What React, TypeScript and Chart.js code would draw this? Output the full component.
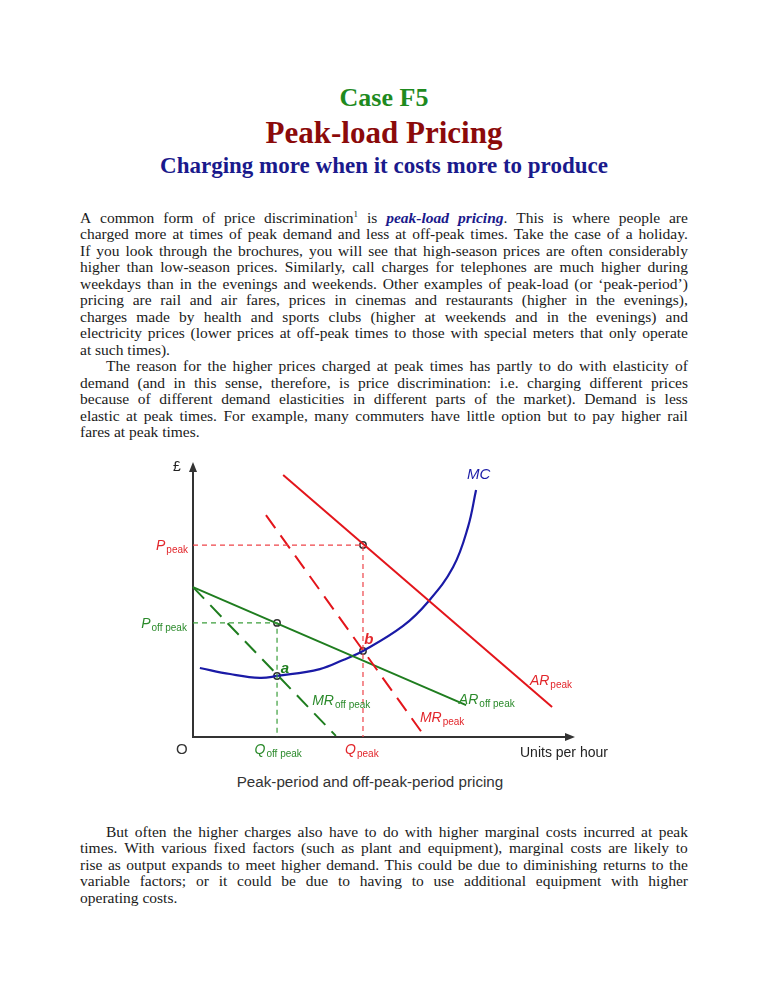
import React, { useEffect, useRef } from "react";
import { Chart, registerables } from "chart.js";
Chart.register(...registerables);

// ---------- chart data (quantity 0..100, price 0..100) ----------
const AR_PEAK = [{ x: 23.6, y: 95.3 }, { x: 94.0, y: 10.9 }];
const MR_PEAK = [{ x: 19.1, y: 80.7 }, { x: 60.2, y: 1.1 }];
const AR_OFF = [{ x: 0, y: 54.5 }, { x: 71.5, y: 11.6 }];
const MR_OFF = [{ x: 0, y: 54.5 }, { x: 37.4, y: 0.4 }];
const MC_X = [1.8, 9.7, 17.5, 22.0, 33.2, 39.3, 44.5, 55.0, 61.5, 68.1, 72.0, 74.1];
const MC_Y = [25.1, 22.9, 21.5, 22.2, 24.7, 28.0, 31.3, 40.4, 49.1, 61.8, 76.4, 89.8];
const Q_OFF = 22.0;
const Q_PEAK = 44.5;
const P_PEAK = 69.8;
const P_OFF = 41.5;
const A_PRICE = 22.2;
const B_PRICE = 31.3;

const RED = "#e3151b";
const RED_GUIDE = "#ee4449";
const RED_TXT = "#e2262b";
const GREEN = "#1f7d1f";
const GREEN_GUIDE = "#3c9e3c";
const GREEN_TXT = "#2b8a2b";
const BLUE = "#1a1aa6";

type Lbl = {
  main: string;
  sub?: string;
  x: number;
  y: number;
  color: string;
  font: string;
  align: "left" | "right" | "center";
};

const SANS = "'Liberation Sans', Arial, sans-serif";
const IT = "italic 14px " + SANS;

const LABELS: Lbl[] = [
  { main: "£", x: -4.2, y: 98.5, color: "#222", font: "14px " + SANS, align: "center" },
  { main: "MC", x: 74.8, y: 95.8, color: BLUE, font: "italic 15px " + SANS, align: "center" },
  { main: "P", sub: "peak", x: -1.3, y: P_PEAK, color: RED_TXT, font: IT, align: "right" },
  { main: "P", sub: "off peak", x: -1.6, y: P_OFF, color: GREEN_TXT, font: IT, align: "right" },
  { main: "O", x: -2.9, y: -4.4, color: "#333", font: "15px " + SANS, align: "center" },
  { main: "Q", sub: "off peak", x: Q_OFF + 0.3, y: -4.4, color: GREEN_TXT, font: IT, align: "center" },
  { main: "Q", sub: "peak", x: Q_PEAK - 0.3, y: -4.4, color: RED_TXT, font: IT, align: "center" },
  { main: "a", x: 23.0, y: 25.1, color: GREEN, font: "bold italic 15px " + SANS, align: "left" },
  { main: "b", x: 44.8, y: 35.6, color: RED_TXT, font: "bold italic 15px " + SANS, align: "left" },
  { main: "MR", sub: "off peak", x: 31.2, y: 13.5, color: GREEN_TXT, font: IT, align: "left" },
  { main: "AR", sub: "off peak", x: 69.6, y: 13.8, color: GREEN_TXT, font: IT, align: "left" },
  { main: "MR", sub: "peak", x: 59.4, y: 7.3, color: RED_TXT, font: IT, align: "left" },
  { main: "AR", sub: "peak", x: 88.2, y: 20.7, color: RED_TXT, font: IT, align: "left" },
  { main: "Units per hour", x: 85.6, y: -5.5, color: "#222", font: "14px " + SANS, align: "left" },
];

const SUB_FONT = "10px " + SANS;

const annotPlugin = {
  id: "annot",
  beforeDatasetsDraw(chart: any) {
    const { ctx, scales } = chart;
    const xs = scales.x;
    const ys = scales.y;
    const ox = xs.getPixelForValue(0);
    const oy = ys.getPixelForValue(0);
    const tx = xs.getPixelForValue(100);
    const ty = ys.getPixelForValue(100);
    ctx.save();
    ctx.strokeStyle = "#333";
    ctx.fillStyle = "#333";
    ctx.lineWidth = 2;
    ctx.beginPath();
    ctx.moveTo(ox, ty + 6);
    ctx.lineTo(ox, oy);
    ctx.lineTo(tx - 6, oy);
    ctx.stroke();
    ctx.beginPath();
    ctx.moveTo(ox, ty);
    ctx.lineTo(ox - 4, ty + 10);
    ctx.lineTo(ox + 4, ty + 10);
    ctx.closePath();
    ctx.fill();
    ctx.beginPath();
    ctx.moveTo(tx, oy);
    ctx.lineTo(tx - 10, oy - 4);
    ctx.lineTo(tx - 10, oy + 4);
    ctx.closePath();
    ctx.fill();
    ctx.restore();
  },
  afterDatasetsDraw(chart: any) {
    const { ctx, scales } = chart;
    ctx.save();
    ctx.textBaseline = "alphabetic";
    for (const l of LABELS) {
      const px = scales.x.getPixelForValue(l.x);
      const py = scales.y.getPixelForValue(l.y);
      ctx.font = l.font;
      const wMain = ctx.measureText(l.main).width;
      ctx.font = SUB_FONT;
      const wSub = l.sub ? ctx.measureText(l.sub).width + 1 : 0;
      const total = wMain + wSub;
      let sx = px;
      if (l.align === "center") sx = px - total / 2;
      if (l.align === "right") sx = px - total;
      ctx.fillStyle = l.color;
      ctx.font = l.font;
      ctx.textAlign = "left";
      ctx.fillText(l.main, sx, py + 5);
      if (l.sub) {
        ctx.font = SUB_FONT;
        ctx.fillText(l.sub, sx + wMain + 1, py + 8);
      }
    }
    ctx.restore();
  },
};

function PeakChart() {
  const ref = useRef<HTMLCanvasElement | null>(null);
  useEffect(() => {
    if (!ref.current) return;
    const lineDs = (data: any[], color: string, width: number, dash: number[]) => ({
      data,
      borderColor: color,
      backgroundColor: color,
      borderWidth: width,
      borderDash: dash,
      showLine: true,
      pointRadius: 0,
      fill: false,
      clip: false as any,
    });
    const chart = new Chart(ref.current, {
      type: "scatter",
      data: {
        datasets: [
          lineDs([{ x: 0, y: P_PEAK }, { x: Q_PEAK, y: P_PEAK }, { x: Q_PEAK, y: 0 }], RED_GUIDE, 1.2, [5, 4]),
          lineDs([{ x: 0, y: P_OFF }, { x: Q_OFF, y: P_OFF }, { x: Q_OFF, y: 0 }], GREEN_GUIDE, 1.2, [5, 4]),
          lineDs(AR_PEAK, RED, 2, []),
          lineDs(MR_PEAK, RED, 2, [16, 9]),
          lineDs(AR_OFF, GREEN, 2, []),
          lineDs(MR_OFF, GREEN, 2, [16, 9]),
          {
            ...lineDs(MC_X.map((x, i) => ({ x, y: MC_Y[i] })), BLUE, 2.2, []),
            tension: 0.4,
          } as any,
          {
            data: [
              { x: Q_PEAK, y: P_PEAK },
              { x: Q_OFF, y: P_OFF },
              { x: Q_OFF, y: A_PRICE },
              { x: Q_PEAK, y: B_PRICE },
            ],
            showLine: false,
            pointRadius: 3.2,
            pointBorderWidth: 1.5,
            pointBorderColor: "#333",
            pointBackgroundColor: "#fff",
            clip: false as any,
          },
        ],
      },
      options: {
        responsive: false,
        animation: false,
        events: [],
        layout: { padding: { left: 93, right: 55, top: 12, bottom: 33 } },
        plugins: { legend: { display: false }, tooltip: { enabled: false }, title: { display: false } },
        scales: {
          x: { type: "linear", min: 0, max: 100, display: false },
          y: { type: "linear", min: 0, max: 100, display: false },
        },
      },
      plugins: [annotPlugin],
    });
    return () => chart.destroy();
  }, []);
  return <canvas ref={ref} width={530} height={320} style={{ width: 530, height: 320, display: "block" }} />;
}

// ---------- page text ----------
const NAVY = "#1a1a8c";
const LH = 16.5;

const P1_LINES = [
  "charged more at times of peak demand and less at off-peak times. Take the case of a holiday.",
  "If you look through the brochures, you will see that high-season prices are often considerably",
  "higher than low-season prices. Similarly, call charges for telephones are much higher during",
  "weekdays than in the evenings and weekends. Other examples of peak-load (or \u2018peak-period\u2019)",
  "pricing are rail and air fares, prices in cinemas and restaurants (higher in the evenings),",
  "charges made by health and sports clubs (higher at weekends and in the evenings) and",
  "electricity prices (lower prices at off-peak times to those with special meters that only operate",
];
const P1_LAST = "at such times).";
const P2_LINES = [
  "The reason for the higher prices charged at peak times has partly to do with elasticity of",
  "demand (and in this sense, therefore, is price discrimination: i.e. charging different prices",
  "because of different demand elasticities in different parts of the market). Demand is less",
  "elastic at peak times. For example, many commuters have little option but to pay higher rail",
];
const P2_LAST = "fares at peak times.";
const P3_LINES = [
  "But often the higher charges also have to do with higher marginal costs incurred at peak",
  "times. With various fixed factors (such as plant and equipment), marginal costs are likely to",
  "rise as output expands to meet higher demand. This could be due to diminishing returns to the",
  "variable factors; or it could be due to having to use additional equipment with higher",
];
const P3_LAST = "operating costs.";

const lineBox: React.CSSProperties = { height: LH, lineHeight: LH + "px", whiteSpace: "nowrap" };

function FlexLine({ text, indent = 0 }: { text: string; indent?: number }) {
  const words = text.split(" ");
  return (
    <div style={{ ...lineBox, display: "flex", justifyContent: "space-between", paddingLeft: indent }}>
      {words.map((w, i) => (
        <span key={i}>{w}</span>
      ))}
    </div>
  );
}
function LLine({ text }: { text: string }) {
  return <div style={lineBox}>{text}</div>;
}

export default function App() {
  const bodyFont: React.CSSProperties = {
    fontFamily: "'Liberation Serif', 'Times New Roman', serif",
    fontSize: 15.5,
    color: "#1a1a1a",
  };
  const head = (top: number, size: number, color: string, text: string) => (
    <div
      style={{
        position: "absolute",
        left: 0,
        top,
        width: 768,
        textAlign: "center",
        fontFamily: "'Liberation Serif', 'Times New Roman', serif",
        fontWeight: "bold",
        fontSize: size,
        lineHeight: size * 1.2 + "px",
        color,
        whiteSpace: "nowrap",
      }}
    >
      {text}
    </div>
  );
  const firstWords: React.ReactNode[] = [
    "A", "common", "form", "of", "price",
    <span key="d">discrimination<sup style={{ fontSize: 9, verticalAlign: "6px", lineHeight: 0 }}>1</sup></span>,
    "is",
    <span key="p" style={{ fontWeight: "bold", fontStyle: "italic", color: NAVY }}>peak-load</span>,
    <span key="p2"><span style={{ fontWeight: "bold", fontStyle: "italic", color: NAVY }}>pricing</span>.</span>,
    "This", "is", "where", "people", "are",
  ];
  return (
    <div style={{ position: "absolute", left: 0, top: 0, width: 768, height: 994, background: "#fff", overflow: "hidden" }}>
      {head(82, 26, "#1e8a1e", "Case F5")}
      {head(114, 31, "#8b0a0a", "Peak-load Pricing")}
      {head(152, 23, NAVY, "Charging more when it costs more to produce")}

      <div style={{ position: "absolute", left: 80, top: 218 - LH / 2, width: 608, ...bodyFont }}>
        <div style={{ ...lineBox, display: "flex", justifyContent: "space-between" }}>
          {firstWords.map((w, i) => (
            <span key={i}>{w}</span>
          ))}
        </div>
        {P1_LINES.map((t, i) => (
          <FlexLine key={i} text={t} />
        ))}
        <LLine text={P1_LAST} />
        {P2_LINES.map((t, i) => (
          <FlexLine key={i} text={t} indent={i === 0 ? 26 : 0} />
        ))}
        <LLine text={P2_LAST} />
      </div>

      <div style={{ position: "absolute", left: 100, top: 450 }}>
        <PeakChart />
      </div>
      <div
        style={{
          position: "absolute",
          left: 170,
          top: 772,
          width: 400,
          textAlign: "center",
          fontFamily: SANS,
          fontSize: 15.2,
          lineHeight: "20px",
          color: "#333",
        }}
      >
        Peak-period and off-peak-period pricing
      </div>

      <div style={{ position: "absolute", left: 80, top: 832 - LH / 2, width: 608, ...bodyFont }}>
        {P3_LINES.map((t, i) => (
          <FlexLine key={i} text={t} indent={i === 0 ? 26 : 0} />
        ))}
        <LLine text={P3_LAST} />
      </div>
    </div>
  );
}
